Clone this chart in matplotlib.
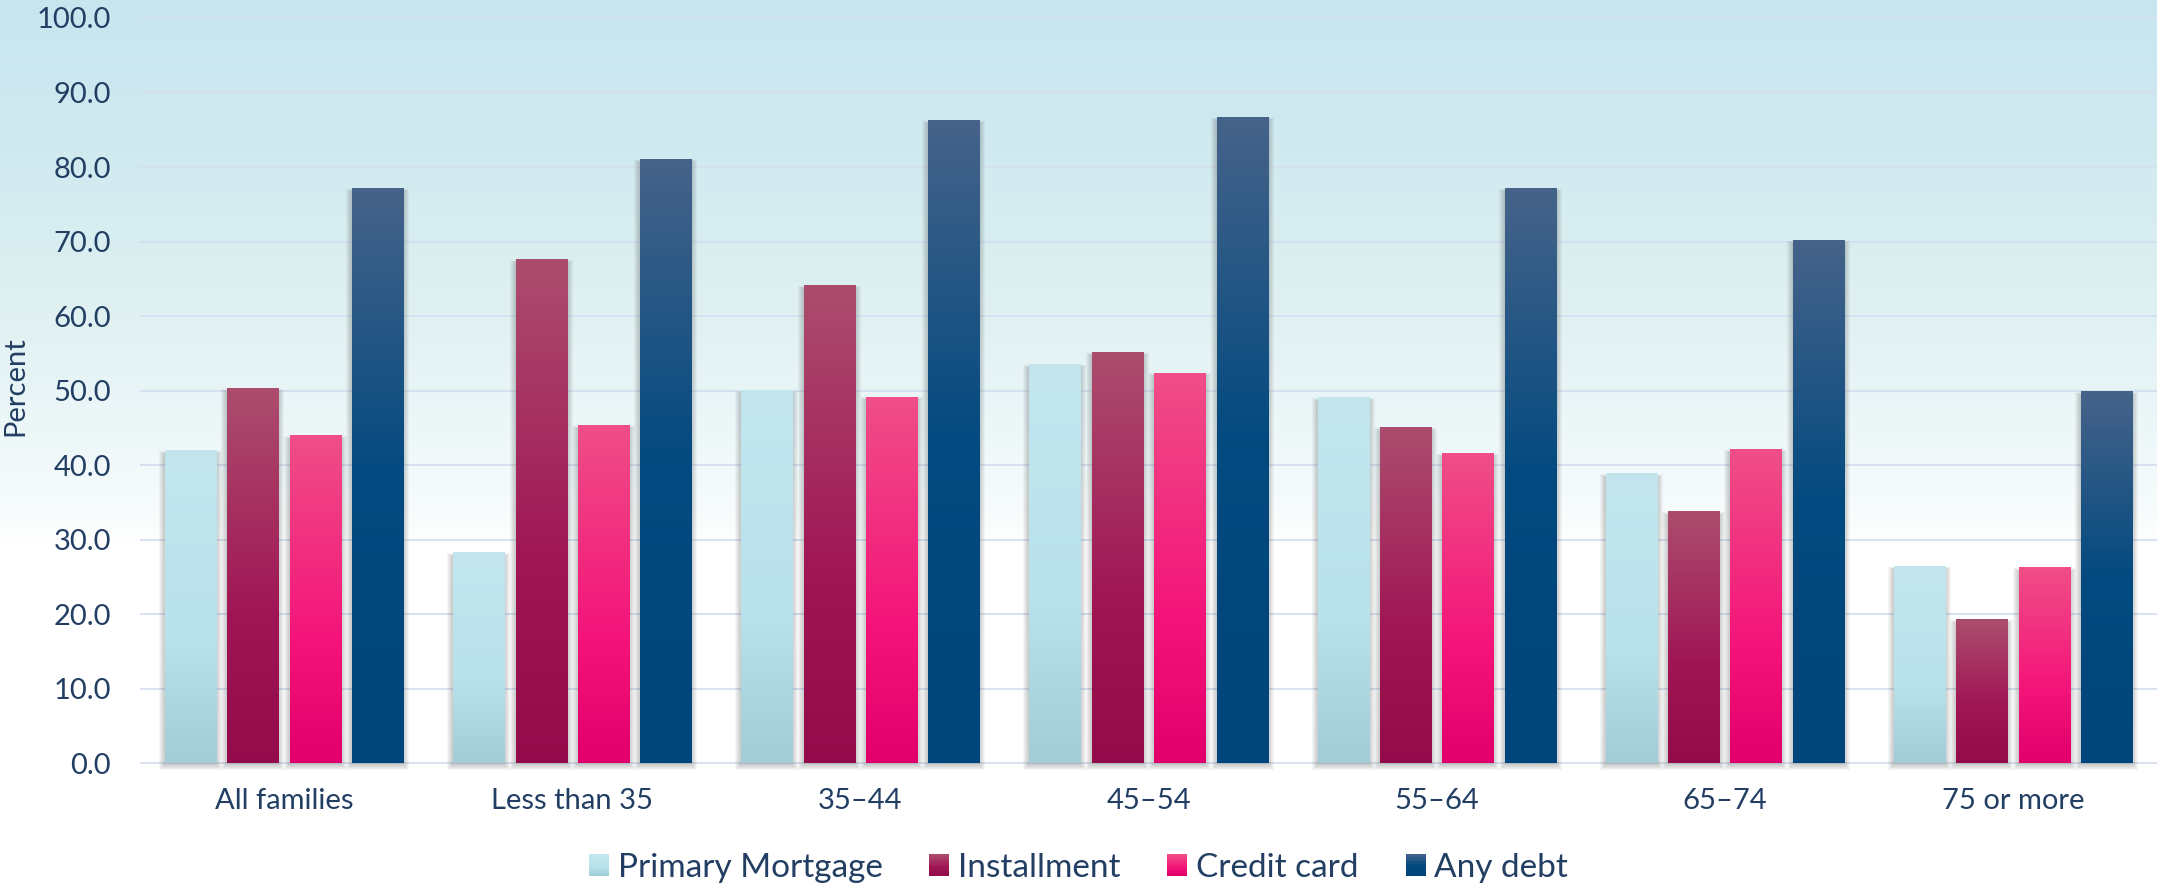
import numpy as np
import matplotlib
matplotlib.use('Agg')
import matplotlib.pyplot as plt
from matplotlib.colors import LinearSegmentedColormap
from matplotlib.patches import Rectangle
from matplotlib.legend_handler import HandlerBase

# data
categories = ['All families', 'Less than 35', '35–44', '45–54', '55–64', '65–74', '75 or more']
series = ['Primary Mortgage', 'Installment', 'Credit card', 'Any debt']
mortgage = [41.9, 28.2, 50.0, 53.5, 49.0, 38.8, 26.4]
installment = [50.2, 67.5, 64.1, 55.1, 45.0, 33.7, 19.2]
credit_card = [43.9, 45.3, 49.1, 52.3, 41.5, 42.1, 26.2]
any_debt = [77.1, 81.0, 86.2, 86.6, 77.1, 70.1, 49.8]
yticks = [0, 10, 20, 30, 40, 50, 60, 70, 80, 90, 100]

# vertical gradients, top -> bottom
grad_stops = [
    [(0.0, '#c3e6ee'), (0.6, '#b9e2eb'), (1.0, '#a2cdd6')],
    [(0.0, '#ac4d6d'), (0.6, '#a01655'), (1.0, '#930b4a')],
    [(0.0, '#f04e87'), (0.6, '#f4167a'), (1.0, '#e2006c')],
    [(0.0, '#466389'), (0.5, '#034a80'), (1.0, '#004579')],
]
cmaps = [LinearSegmentedColormap.from_list('g%d' % i, s) for i, s in enumerate(grad_stops)]

TEXT = '#223f63'
GRID = '#d4dff0'
FONT = 'Lato'

W, H, DPI = 2157, 888, 100
fig = plt.figure(figsize=(W / DPI, H / DPI), dpi=DPI)

# page background: light blue at the top fading to white
bg_stops = [(0.0, (200, 229, 239)), (0.17, (208, 234, 240)), (0.33, (222, 240, 241)),
            (0.45, (233, 245, 247)), (0.52, (241, 249, 250)), (0.58, (248, 252, 252)),
            (0.61, (255, 255, 255)), (1.0, (255, 255, 255))]
yy = np.linspace(0, 1, 400)
bg = np.zeros((400, 1, 3))
for c in range(3):
    bg[:, 0, c] = np.interp(yy, [s[0] for s in bg_stops], [s[1][c] / 255 for s in bg_stops])
bax = fig.add_axes([0, 0, 1, 1], zorder=-10)
bax.imshow(bg, aspect='auto', extent=[0, 1, 0, 1], origin='upper')
bax.set_axis_off()

ylo, yhi = -1.5, 101
ax = fig.add_axes([140 / W, 113.5 / H, 1 - 140 / W, (877.5 - 113.5) / H])
ax.set_facecolor('none')

x = np.arange(len(categories))
bw = 0.177
step = 0.2165
values = [mortgage, installment, credit_card, any_debt]
px = 1 / 288.0
py = 1 / 7.46

for i, vals in enumerate(values):
    off = (i - 1.5) * step
    bars = ax.bar(x + off, vals, width=bw, color='none', linewidth=0, zorder=3)
    grad = np.linspace(0, 1, 256).reshape(-1, 1)
    for rect in bars:
        x0, w, h = rect.get_x(), rect.get_width(), rect.get_height()
        # soft drop shadow
        for k in range(1, 7):
            ax.add_patch(Rectangle((x0 - k * px, -(1 + k) * py), w + 2 * k * px,
                                   h - 3 * py + 0.5 * k * py + (1 + k) * py,
                                   facecolor='#4a4a4a', alpha=0.05, linewidth=0, zorder=2))
        ax.imshow(grad, cmap=cmaps[i], aspect='auto', extent=[x0, x0 + w, 0, h],
                  origin='upper', interpolation='bilinear', zorder=3)

ax.set_xlim(-0.5, len(categories) - 0.5)
ax.set_ylim(ylo, yhi)
ax.set_yticks(yticks)
ax.set_yticklabels(['%.1f' % v for v in yticks])
ax.set_xticks(x)
ax.set_xticklabels(categories)
ax.yaxis.grid(True, color=GRID, linewidth=1.3, zorder=0)
ax.set_axisbelow(True)
for s in ax.spines.values():
    s.set_visible(False)
ax.tick_params(axis='both', length=0, colors=TEXT, labelsize=21)
ax.tick_params(axis='y', pad=21)
ax.tick_params(axis='x', pad=10)
for lab in ax.get_xticklabels() + ax.get_yticklabels():
    lab.set_family(FONT)
fig.text(15 / W, (H - 386) / H, 'Percent', rotation=90, ha='center', va='center',
         fontsize=21, color=TEXT, family=FONT)


class GradHandler(HandlerBase):
    def __init__(self, cmap):
        super().__init__()
        self.cmap = cmap

    def create_artists(self, legend, orig_handle, xdescent, ydescent, width, height, fontsize, trans):
        n = 16
        arts = []
        for j in range(n):
            r = Rectangle((-xdescent, -ydescent + height * (n - 1 - j) / n), width, height / n + 0.3,
                          facecolor=self.cmap((j + 0.5) / n), linewidth=0, transform=trans)
            arts.append(r)
        return arts


handles = [Rectangle((0, 0), 1, 1) for _ in series]
fig.legend(handles, series, loc='center', bbox_to_anchor=(0.5, 20 / H), ncol=4, frameon=False,
           handler_map={h: GradHandler(c) for h, c in zip(handles, cmaps)},
           prop={'family': FONT, 'size': 24}, labelcolor=TEXT,
           handlelength=0.6, handleheight=0.6, handletextpad=0.27, columnspacing=1.4,
           borderpad=0, borderaxespad=0)

fig.savefig('out.png', dpi=DPI)
